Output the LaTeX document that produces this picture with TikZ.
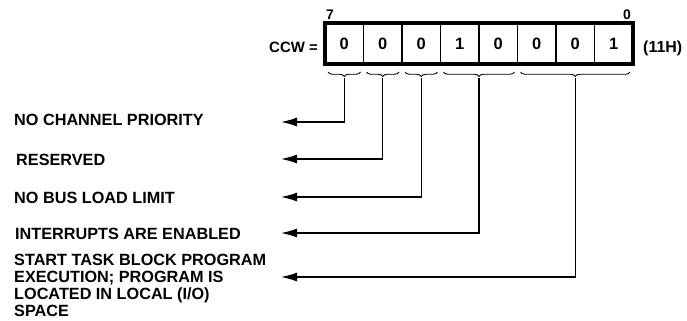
\documentclass[tikz,border=0pt]{standalone}
\usepackage{fontspec}
\setmainfont{Liberation Sans}
\usetikzlibrary{arrows.meta,decorations.pathreplacing,calc}
\begin{document}
\begin{tikzpicture}[x=1bp,y=-1bp,
  lbl/.style={font=\fontsize{16.3}{17}\selectfont\bfseries, inner sep=0, align=left},
  cell/.style={draw, line width=1.8bp, minimum width=38.5bp, minimum height=41bp, inner sep=0, outer sep=0, font=\fontsize{16.5}{17}\selectfont\bfseries},
  bitno/.style={font=\fontsize{14}{15}\selectfont\bfseries, inner sep=0, anchor=base},
  brc/.style={decorate, decoration={brace, amplitude=4.5bp, mirror}, line width=0.9bp},
  conn/.style={line width=1.3bp, -{Latex[length=16bp,width=9bp]}}
]
\useasboundingbox (0,0) rectangle (687,320);
\foreach \i/\v in {0/0,1/0,2/0,3/1,4/0,5/0,6/0,7/1}
  \node[cell] (c\i) at ({325+38.5*(\i+0.5)},43.5) {\v};
\draw[line width=4bp] (c0.north west) rectangle (c7.south east);
\node[bitno] (b7) at (330,19) {7};
\node[bitno] (b0) at (627,19) {0};
\node[font=\fontsize{15}{16}\selectfont\bfseries, inner sep=0, anchor=base east] (ccw) at (318,52) {CCW =};
\node[font=\fontsize{16}{17}\selectfont\bfseries, inner sep=0, anchor=base west] (hex) at (643,52) {(11H)};
\foreach \a/\b/\n in {0/0/1,1/1/2,2/2/3,3/4/4,5/7/5} {
  \draw[brc] ([shift={(3,8)}]c\a.south west) -- coordinate[pos=.5] (m\n) ([shift={(-3,8)}]c\b.south east);
  \coordinate (t\n) at ([shift={(0,6)}]m\n);
}
\node[lbl, anchor=base west] (l1) at (14,125) {NO CHANNEL PRIORITY};
\node[lbl, anchor=base west] (l2) at (16,165) {RESERVED};
\node[lbl, anchor=base west] (l3) at (14,203) {NO BUS LOAD LIMIT};
\node[lbl, anchor=base west] (l4) at (15,239) {INTERRUPTS ARE ENABLED};
\node[lbl, anchor=north west] (l5) at (14,254) {START TASK BLOCK PROGRAM\\EXECUTION; PROGRAM IS\\LOCATED IN LOCAL (I/O)\\SPACE};
\coordinate (e1) at (281,122);
\coordinate (e2) at (281,159);
\coordinate (e3) at (281,197);
\coordinate (e4) at (281,233);
\coordinate (e5) at (281,277);
\foreach \n in {1,...,5} \draw[conn] (t\n) |- (e\n);
\end{tikzpicture}
\end{document}
